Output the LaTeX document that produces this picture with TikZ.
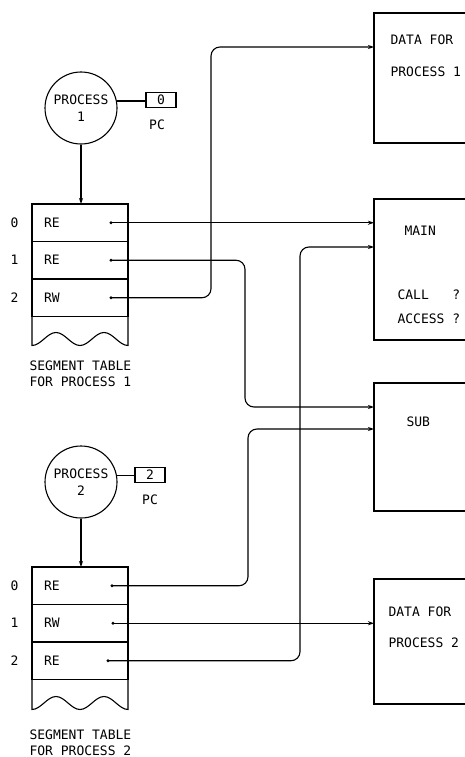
\documentclass[tikz,border=0pt]{standalone}
\usepackage{fontspec}
\setmonofont{DejaVu Sans Mono}
\usetikzlibrary{arrows.meta,positioning}

\begin{document}
\begin{tikzpicture}[x=1pt,y=-1pt,line width=1.1pt,
  font=\ttfamily\fontsize{13}{16}\selectfont,
  proc/.style={draw,circle,minimum size=72pt,inner sep=0pt,align=center},
  pcbox/.style={draw,minimum width=30pt,minimum height=15pt,inner sep=0pt},
  seg/.style={draw,minimum height=37.5pt,text width=72pt,inner xsep=12pt,inner ysep=0pt,outer sep=0pt,align=left},
  blk/.style={draw,anchor=north west,minimum width=130pt,outer sep=0pt},
  txt/.style={inner sep=0pt},
  link/.style={->,rounded corners=9pt},
  >={Stealth[length=6pt,width=4pt]}]
\useasboundingbox (0,0) rectangle (465,757);
\clip (0,0) rectangle (465,757);

\node[blk,minimum height=130pt] (data1) at (374,13) {};
\node[blk,minimum height=141pt] (main) at (374,199) {};
\node[blk,minimum height=128pt] (sub) at (374,383) {};
\node[blk,minimum height=125pt] (data2) at (374,579) {};
\node[txt,anchor=west] (d1a) at (390,40) {DATA FOR};
\node[txt,anchor=west] (d1b) at (390,72) {PROCESS 1};
\node[txt,anchor=west] (mainlab) at (404,231) {MAIN};
\node[txt,anchor=west] (call) at (397,295) {CALL\ \ \ ?};
\node[txt,anchor=west] (access) at (397,319) {ACCESS ?};
\node[txt,anchor=west] (sublab) at (406,422) {SUB};
\node[txt,anchor=west] (d2a) at (388,612) {DATA FOR};
\node[txt,anchor=west] (d2b) at (388,643) {PROCESS 2};

\node[proc] (proc1) at (81,108) {PROCESS\\[1pt]1};
\node[pcbox] (pc1) at (161,100) {0};
\node[txt] (pclab1) at (157,125) {PC};
\node[seg] (t1r0) at (80,222.75) {RE};
\node[seg,below=0pt of t1r0] (t1r1) {RE};
\node[seg,below=0pt of t1r1] (t1r2) {RW};
\node[txt,left=13pt of t1r0] (n10) {0};
\node[txt,left=13pt of t1r1] (n11) {1};
\node[txt,left=13pt of t1r2] (n12) {2};
\node[txt,align=left,anchor=north west] (cap1) at (29,360) {SEGMENT TABLE\\FOR PROCESS 1};

\node[proc] (proc2) at (81,482) {PROCESS\\[1pt]2};
\node[pcbox] (pc2) at (150,475) {2};
\node[txt] (pclab2) at (150,500) {PC};
\node[seg] (t2r0) at (80,585.75) {RE};
\node[seg,below=0pt of t2r0] (t2r1) {RW};
\node[seg,below=0pt of t2r1] (t2r2) {RE};
\node[txt,left=13pt of t2r0] (n20) {0};
\node[txt,left=13pt of t2r1] (n21) {1};
\node[txt,left=13pt of t2r2] (n22) {2};
\node[txt,align=left,anchor=north west] (cap2) at (29,729) {SEGMENT TABLE\\FOR PROCESS 2};

\draw (proc1.11) -- (proc1.11 -| pc1.west); \draw[->] (proc1.south) -- (proc1.south |- t1r0.north);
\draw (proc2.10) -- (proc2.10 -| pc2.west); \draw[->] (proc2.south) -- (proc2.south |- t2r0.north);
\draw (t1r2.south west) -- ++(0,29) cos ++(12,-6.5) sin ++(12,-6.5) cos ++(12,6.5) sin ++(12,6.5)
  cos ++(12,-6.5) sin ++(12,-6.5) cos ++(12,6.5) sin ++(12,6.5) -- (t1r2.south east);
\draw (t2r2.south west) -- ++(0,30) cos ++(12,-6.5) sin ++(12,-6.5) cos ++(12,6.5) sin ++(12,6.5)
  cos ++(12,-6.5) sin ++(12,-6.5) cos ++(12,6.5) sin ++(12,6.5) -- (t2r2.south east);

\coordinate (d10) at ([xshift=-17pt]t1r0.east); \coordinate (d11) at ([xshift=-17pt]t1r1.east);
\coordinate (d12) at ([xshift=-17pt]t1r2.east); \coordinate (d20) at ([xshift=-16pt]t2r0.east);
\coordinate (d21) at ([xshift=-15pt]t2r1.east); \coordinate (d22) at ([xshift=-20pt]t2r2.east);
\coordinate (v11) at (245,407); \coordinate (v12) at (211,47);
\coordinate (v20) at (248,429); \coordinate (v22) at (300,247);
\foreach \d in {d10,d11,d12,d20,d21,d22} \fill (\d) circle (1.7pt);

\draw[link] (d10) -- (d10 -| main.west);
\draw[link] (d11) -| (v11) -- (v11 -| sub.west);
\draw[link] (d12) -| (v12) -- (v12 -| data1.west);
\draw[link] (d20) -| (v20) -- (v20 -| sub.west);
\draw[link] (d21) -- (d21 -| data2.west);
\draw[link] (d22) -| (v22) -- (v22 -| main.west);
\end{tikzpicture}
\end{document}
